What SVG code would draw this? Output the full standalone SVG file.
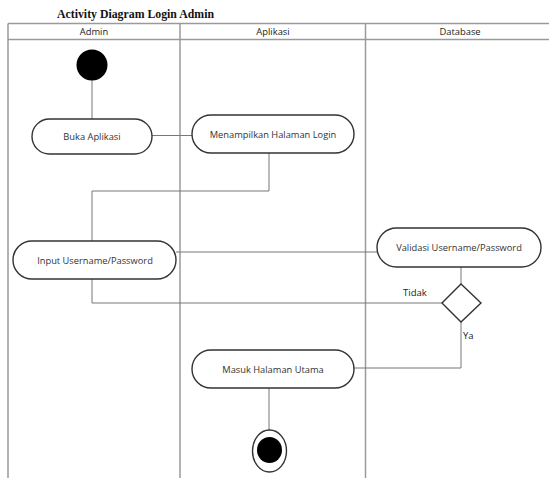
<svg xmlns="http://www.w3.org/2000/svg" width="549" height="478" viewBox="0 0 549 478">
  <style>
    .lane { stroke: #9a9a9a; stroke-width: 1.5; fill: none; }
    .hdr { font-family: "Open Sans", "Noto Sans", sans-serif; font-size: 9.4px; fill: #222; text-anchor: middle; }
    .title { font-family: "Liberation Serif", serif; font-weight: bold; font-size: 11.8px; fill: #111; }
    .act { fill: #fff; stroke: #333; stroke-width: 1.4; }
    .lbl { font-family: "Open Sans", "Noto Sans", sans-serif; font-size: 9.3px; fill: #333; text-anchor: middle; }
    .edge { stroke: #777; stroke-width: 1; fill: none; }
    .guard { font-family: "Open Sans", "Noto Sans", sans-serif; font-size: 9.5px; fill: #222; }
  </style>
  <rect width="549" height="478" fill="#fff"/>

  <text class="title" x="57" y="17.5">Activity Diagram Login Admin</text>

  <!-- swimlanes -->
  <g id="swimlanes">
    <line class="lane" x1="8" y1="23.5" x2="549" y2="23.5"/>
    <line class="lane" x1="8" y1="39.5" x2="549" y2="39.5"/>
    <line class="lane" x1="8" y1="23.5" x2="8" y2="478"/>
    <line class="lane" x1="180" y1="23.5" x2="180" y2="478"/>
    <line class="lane" x1="365.5" y1="23.5" x2="365.5" y2="478"/>
    <text class="hdr" x="94" y="35">Admin</text>
    <text class="hdr" x="273" y="35">Aplikasi</text>
    <text class="hdr" x="460" y="35">Database</text>
  </g>

  <!-- connectors -->
  <g id="connectors">
    <line class="edge" x1="92" y1="80" x2="92" y2="119"/>
    <line class="edge" x1="152" y1="135.5" x2="192" y2="135.5"/>
    <polyline class="edge" points="269,153 269,191 92,191 92,241"/>
    <line class="edge" x1="176" y1="252" x2="378" y2="252"/>
    <line class="edge" x1="461" y1="267" x2="461" y2="284"/>
    <polyline class="edge" points="92,279 92,303 442,303"/>
    <polyline class="edge" points="461,322 461,368 354,368"/>
    <line class="edge" x1="269" y1="388" x2="269" y2="430"/>
  </g>

  <g id="start">
    <circle cx="92" cy="65" r="15.5" fill="#000"/>
  </g>

  <g id="buka-aplikasi">
    <rect class="act" x="32" y="119" width="120" height="35" rx="17.5"/>
    <text class="lbl" x="92" y="140">Buka Aplikasi</text>
  </g>

  <g id="menampilkan-login">
    <rect class="act" x="192" y="115" width="162" height="38" rx="19"/>
    <text class="lbl" x="273" y="137.5">Menampilkan Halaman Login</text>
  </g>

  <g id="input-credentials">
    <rect class="act" x="13" y="241" width="163" height="38" rx="19"/>
    <text class="lbl" x="95" y="263.5">Input Username/Password</text>
  </g>

  <g id="validasi">
    <rect class="act" x="377" y="228" width="164" height="39" rx="19.5"/>
    <text class="lbl" x="459" y="251">Validasi Username/Password</text>
  </g>

  <g id="decision">
    <polygon class="act" points="461,284 481,303 461,322 442,303"/>
    <text class="guard" x="403" y="296">Tidak</text>
    <text class="guard" x="463" y="339">Ya</text>
  </g>

  <g id="masuk-utama">
    <rect class="act" x="192" y="350" width="162" height="38" rx="19"/>
    <text class="lbl" x="273" y="372.5">Masuk Halaman Utama</text>
  </g>

  <g id="end">
    <ellipse cx="269.5" cy="451" rx="17" ry="21" fill="#fff" stroke="#333" stroke-width="1.4"/>
    <ellipse cx="269.5" cy="450" rx="12.5" ry="13" fill="#000"/>
  </g>
</svg>
